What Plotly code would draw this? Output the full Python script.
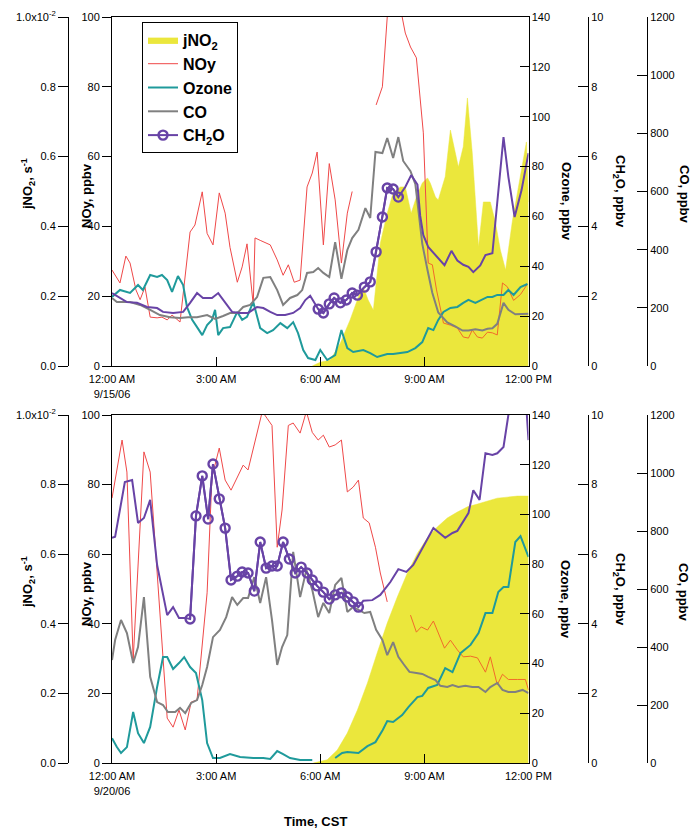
import plotly.graph_objects as go

# ---------------- data (hours after midnight, CST) ----------------
# Panel A: 9/15/06
a_jno2_h = [5.77, 6.0, 6.29, 6.58, 6.86, 7.10, 7.24, 7.38, 7.53, 7.73, 7.93, 8.10, 8.31, 8.45, 8.62, 8.77, 8.94,
            9.09, 9.17, 9.32, 9.40, 9.60, 9.75, 9.86, 9.98, 10.12, 10.24, 10.38, 10.56, 10.70, 10.90, 11.05,
            11.19, 11.34, 11.54, 11.68, 11.83, 11.94, 12.0]
a_jno2 = [0, 0.00011, 0.00017, 0.00066, 0.00132, 0.00198, 0.00226, 0.00189, 0.00160, 0.00352, 0.00438, 0.00496,
          0.00513, 0.00513, 0.00438, 0.00484, 0.00524, 0.00539, 0.00524, 0.00484, 0.00476, 0.00542, 0.00676,
          0.00628, 0.00570, 0.00628, 0.00768, 0.00610, 0.00341, 0.00470, 0.00470, 0.00410, 0.00332, 0.00275,
          0.00418, 0.00496, 0.00582, 0.00642, 0.00470]

a_noy_h = [0, 0.23, 0.40, 0.52, 0.69, 0.81, 0.95, 1.10, 1.30, 1.44, 1.59, 1.73, 1.96, 2.25, 2.39, 2.60, 2.74,
           2.91, 3.09, 3.26, 3.40, 3.61, 3.75, 3.89, 4.07, 4.12, 4.27, 4.56, 4.76, 4.93, 5.08, 5.25, 5.42, 5.62,
           5.77, 5.91, 6.09, 6.26, 6.43, 6.61, 6.78, 6.92, 7.2, 7.61, 7.79, 7.93, 8.10, 8.25, 8.36, 8.45, 8.60,
           8.77, 8.97, 9.11]
a_noy = [27.5, 23.8, 31.5, 29.5, 21.8, 19, 22.6, 14, 13.8, 14, 13.2, 14.6, 12.6, 38.4, 40.4, 49.9, 38, 34.7,
         49.6, 43.8, 34, 24, 28.4, 35, 17.5, 36.7, 36, 34.7, 30.4, 26, 29, 24, 24.6, 51.3, 55.3, 61.3, 34.7, 58,
         47.6, 29.5, 43.8, 50, None, 74.8, 80, 100, 115, 112, 100, 95.4, 91.4, 88.3, 66.8, 29.5]
a_noy2_h = [9.11, 9.23, 9.35, 9.55, 9.75, 9.95, 10.12, 10.27, 10.38, 10.53, 10.67, 10.82, 10.96, 11.10, 11.25,
            11.39, 11.57, 11.77, 11.97]
a_noy2 = [29.5, 29, 21.8, 12.3, 11.7, 10.9, 8.3, 8, 10.3, 8.3, 8, 9.7, 9.5, 8.9, 23.8, 22.7, 18.8, 20.5, 23.5]

a_o3_h = [0, 0.23, 0.52, 0.75, 0.89, 1.10, 1.30, 1.44, 1.59, 1.73, 1.90, 2.05, 2.16, 2.31, 2.45, 2.60, 2.74, 2.88,
          2.97, 3.06, 3.20, 3.40, 3.61, 3.75, 3.89, 4.07, 4.27, 4.47, 4.64, 4.85, 5.05, 5.22, 5.36, 5.51, 5.65,
          5.86, 6.00, 6.20, 6.43, 6.61, 6.78, 6.95, 7.24, 7.44, 7.64, 7.93, 8.10, 8.31, 8.51, 8.74, 8.94, 9.11,
          9.26, 9.40, 9.55, 9.75, 9.95, 10.12, 10.27, 10.47, 10.67, 10.82, 10.96, 11.10, 11.28, 11.42, 11.57,
          11.77, 11.97]
a_o3 = [27.7, 30.5, 29.3, 32.5, 30.5, 36.5, 35.7, 36.5, 34.5, 29.7, 36.1, 32.5, 23.7, 18.5, 15.6, 12.4, 16.4, 18.5,
        22.5, 12.4, 15.2, 15.6, 21.7, 18.5, 19.7, 25.7, 15.2, 13.2, 14.4, 17.2, 15.2, 17.6, 13.2, 6.4, 3.2, 2.4,
        6.4, 2.4, 4.4, 14.4, 7.2, 5.6, 6.4, 5.2, 3.6, 4.8, 4.8, 5.2, 5.6, 7.2, 9.6, 15.2, 14.4, 18.5, 21.7, 23.3,
        23.7, 25.3, 26.5, 25.3, 26.5, 27.7, 27.7, 28.5, 28.5, 30.5, 28.5, 31.7, 32.9]

a_co_h = [0, 0.14, 0.52, 0.81, 1.10, 1.38, 1.67, 1.96, 2.19, 2.45, 2.74, 2.97, 3.20, 3.40, 3.61, 3.78, 3.98, 4.18,
          4.36, 4.56, 4.76, 4.93, 5.13, 5.34, 5.48, 5.62, 5.80, 5.94, 6.09, 6.26, 6.43, 6.61, 6.78, 6.92, 7.10,
          7.30, 7.44, 7.59, 7.79, 7.93, 8.10, 8.25, 8.39, 8.60, 8.74, 8.83, 8.94, 9.09, 9.23, 9.40, 9.66, 9.89,
          10.10, 10.27, 10.47, 10.67, 10.82, 10.96, 11.10, 11.28, 11.42, 11.62, 11.83, 12.0]
a_co = [234, 220, 220, 210, 193, 175, 168, 165, 168, 168, 175, 162, 172, 182, 182, 203, 210, 237, 303, 306, 261,
        210, 234, 244, 261, 320, 323, 337, 320, 306, 426, 300, 399, 440, 468, 543, 509, 736, 732, 784, 715, 787,
        705, 670, 625, 540, 420, 330, 251, 184, 150, 136, 122, 122, 126, 122, 128, 130, 145, 217, 193, 178, 178,
        180]

a_ch2o_h = [0, 0.43, 0.72, 1.01, 1.30, 1.47, 1.76, 2.05, 2.25, 2.45, 2.62, 2.88, 3.06, 3.26, 3.46, 3.69, 3.92,
            4.18, 4.36, 4.56, 4.76, 4.99, 5.22, 5.42, 5.57, 5.71]
a_ch2o = [2.09, 1.83, 1.81, 1.69, 1.66, 1.55, 1.52, 1.55, 1.81, 2.09, 1.95, 1.95, 2.09, 1.81, 1.55, 1.52, 1.52,
          1.69, 1.66, 1.55, 1.46, 1.46, 1.52, 1.66, 1.89, 2.01]
a_circ_h = [5.94, 6.09, 6.26, 6.40, 6.58, 6.75, 6.92, 7.07, 7.27, 7.44, 7.61, 7.79, 7.93, 8.10, 8.25]
a_circ = [1.63, 1.52, 1.78, 1.95, 1.81, 1.89, 2.09, 2.03, 2.26, 2.41, 3.27, 4.27, 5.10, 5.07, 4.84]
a_ch2o_post_h = [8.45, 8.62, 8.80, 8.88, 8.97, 9.11, 9.26, 9.40, 9.58, 9.78, 9.95, 10.12, 10.27, 10.41, 10.61,
                 10.76, 10.96, 11.28, 11.42, 11.60, 11.80, 12.0]
a_ch2o_post = [5.13, 5.47, 5.20, 4.30, 3.75, 3.41, 3.24, 3.10, 2.89, 3.30, 3.02, 2.90, 2.84, 2.69, 2.88, 3.18,
               3.23, 6.56, 5.42, 4.27, 5.04, 6.10]

# Panel B: 9/20/06
b_jno2_h = [5.80, 6.20, 6.49, 6.78, 7.07, 7.36, 7.64, 7.93, 8.22, 8.51, 8.80, 9.09, 9.37, 9.66, 9.95, 10.24,
            10.53, 10.82, 11.10, 11.39, 11.68, 12.0]
b_jno2 = [0, 0.00009, 0.00037, 0.00086, 0.00152, 0.00230, 0.00316, 0.00402, 0.00477, 0.00546, 0.00603, 0.00647,
          0.00678, 0.00704, 0.00721, 0.00736, 0.00744, 0.00753, 0.00761, 0.00764, 0.00767, 0.00767]

b_noy_h = [0, 0.29, 0.43, 0.61, 0.92, 1.10, 1.59, 1.76, 1.93, 2.11, 2.28, 2.45, 2.74, 2.88, 3.09, 3.26, 3.43,
           3.78, 3.92, 4.12, 4.33, 4.47, 4.61, 4.76, 4.90, 5.08, 5.22, 5.42, 5.60, 5.77, 5.94, 6.09, 6.26, 6.43,
           6.61, 6.78, 6.95, 7.10, 7.24, 7.41, 7.59, 7.73, 7.93]
b_noy = [76.1, 92.8, 83.6, 29.6, 89.4, 83.6, 12.9, 10.3, 15.2, 9.5, 17.5, 18.1, 48.9, 82.2, 90.5, 81.3, 78.4,
         85.6, 84.2, 92, 101, 99, 97, 62, 72.7, 97, 97.7, 94.8, 101, 95, 92.8, 94.2, 90.8, 91.4, 92.8, 77.9, 79.3,
         81.3, 70.4, 69, 62, 54.6, 46.3]
b_noy2_h = [8.60, 8.77, 8.91, 9.09, 9.26, 9.58, 9.75, 9.95, 10.12, 10.33, 10.53, 10.76, 10.90, 11.10, 11.25,
            11.42, 11.68, 11.91, 12.0]
b_noy2 = [42.5, 37.6, 39.1, 38.2, 40.8, 33, 35.3, 32.5, 30.5, 30.7, 30.2, 26.1, 30.5, 22.5, 25.5, 24, 24, 24, 21]

b_o3_h = [0, 0.14, 0.26, 0.43, 0.61, 0.75, 0.92, 1.10, 1.30, 1.47, 1.59, 1.76, 1.93, 2.08, 2.25, 2.42, 2.60, 2.74,
          2.91, 3.11, 3.40, 3.69, 4.07, 4.36, 4.56, 4.76, 4.93, 5.13, 5.42, 5.77, 6.1,
          6.43, 6.63, 6.78, 7.10, 7.36, 7.59, 7.80, 7.93, 8.10, 8.36, 8.54, 8.80, 8.94, 9.11, 9.37, 9.60, 9.81,
          10.04, 10.33, 10.56, 10.76, 10.96, 11.13, 11.28, 11.42, 11.62, 11.77, 12.0]
b_o3 = [10, 6.4, 4, 6.4, 20.5, 12, 8, 14.5, 30.6, 42.6, 42.6, 37.8, 40.2, 42.6, 38.6, 36.2, 25.3, 8, 2, 2, 3.6,
        2.4, 2, 2, 1.6, 4.8, 3.6, 2, 1.2, 1.2, None,
        2, 4, 4.4, 4, 6.8, 8.4, 13.3, 16.9, 16.5, 19.3, 22.5, 26.5, 27, 30.2, 31.4, 38.2, 36.6, 44.2, 47.5, 52.3,
        60.3, 60.3, 68.8, 70.8, 70.8, 88.9, 91.3, 82.9]

b_co_h = [0, 0.09, 0.26, 0.43, 0.61, 0.75, 0.92, 1.10, 1.30, 1.47, 1.61, 1.82, 1.96, 2.11, 2.28, 2.45, 2.60, 2.74,
          2.91, 3.11, 3.29, 3.46, 3.61, 3.78, 3.92, 4.10, 4.27, 4.44, 4.61, 4.76, 4.90, 5.05, 5.22, 5.42, 5.60,
          5.77, 5.94, 6.09, 6.26, 6.43, 6.61, 6.78, 6.95, 7.10, 7.27, 7.44, 7.61, 7.79, 7.93, 8.10, 8.25, 8.42,
          8.57, 8.77, 8.94, 9.11, 9.32, 9.46, 9.66, 9.81, 9.98, 10.18, 10.38, 10.56, 10.76, 10.90, 11.10, 11.25,
          11.42, 11.62, 11.83, 12.0]
b_co = [355, 424, 493, 448, 345, 400, 572, 297, 210, 200, 176, 176, 190, 172, 207, 217, 269, 331, 434, 459, 503,
        572, 545, 569, 569, 641, 552, 641, 493, 338, 400, 441, 728, 572, 666, 597, 503, 552, 517, 614, 638, 521,
        538, 528, 517, 521, 459, 424, 372, 417, 366, 338, 314, 310, 307, 297, 286, 266, 262, 269, 262, 266, 262,
        262, 245, 262, 276, 252, 245, 245, 252, 241]

b_ch2o_h = [0, 0.09, 0.37, 0.58, 0.75, 0.92, 1.10, 1.30, 1.59, 1.76, 1.93, 2.11]
b_ch2o = [6.47, 6.5, 8.07, 8.13, 6.9, 7.04, 7.56, 5.69, 4.25, 4.48, 4.17, 4.17]
b_circ_h = [2.25, 2.42, 2.60, 2.77, 2.91, 3.09, 3.26, 3.43, 3.61, 3.75, 3.92, 4.10, 4.27, 4.44, 4.61, 4.76, 4.93,
            5.11, 5.28, 5.45, 5.62, 5.77, 5.91, 6.09, 6.26, 6.43, 6.61, 6.78, 6.95, 7.10]
b_circ = [4.14, 7.10, 8.25, 7.01, 8.59, 7.59, 6.75, 5.26, 5.37, 5.49, 5.46, 4.94, 6.35, 5.6, 5.66, 5.66, 6.35,
          5.86, 5.46, 5.63, 5.46, 5.26, 5.09, 4.91, 4.71, 4.83, 4.89, 4.77, 4.63, 4.48]
b_ch2o_post_h = [7.24, 7.50, 7.73, 8.02, 8.25, 8.48, 8.68, 9.03, 9.26, 9.60, 9.81, 9.95, 10.27, 10.41, 10.59,
                 10.76, 10.96, 11.10, 11.28, 11.42, 11.60, 11.90, 12.0]
b_ch2o_post = [4.66, 4.68, 4.83, 5.20, 5.57, 5.49, 5.69, 6.35, 6.75, 6.47, 6.61, 6.67, 7.18, 7.84, 7.56, 8.9,
               8.85, 8.9, 9.08, 10.0, 10.9, 10.8, 9.28]

tick_hours = [0, 3, 6, 9, 12]
tick_text_a = ["12:00 AM<br>9/15/06", "3:00 AM", "6:00 AM", "9:00 AM", "12:00 PM"]
tick_text_b = ["12:00 AM<br>9/20/06", "3:00 AM", "6:00 AM", "9:00 AM", "12:00 PM"]
jno2_ticks = [0, 0.002, 0.004, 0.006, 0.008, 0.010]
jno2_text = ["0.0", "0.2", "0.4", "0.6", "0.8", "1.0x10<sup>-2</sup>"]

# ---------------- styling ----------------
W, H = 692, 832
FONT = "Liberation Sans, Arial, Helvetica, sans-serif"
C_J = "#EBE73C"
C_NOY = "#EF4848"
C_NOY2 = "#F26A2A"
C_O3 = "#1F9A9B"
C_CO = "#808080"
C_CH = "#6843A6"

def fx(p):  # window pixel -> paper fraction
    return p / W

def fy(p):
    return 1 - p / H

XDOM = [fx(112), fx(528.5)]
DOM_A = [fy(366), fy(17)]
DOM_B = [fy(763), fy(415)]

fig = go.Figure()

def add_panel(sfx, yids, jh, jv, nh, nv, n2h, n2v, oh, ov, ch, cv, hh, hv, ph, pv, qh, qv, legend):
    xa = "x" if sfx == 0 else "x2"
    yj, yn, yo, yc, yh = yids
    fig.add_trace(go.Scatter(x=jh, y=jv, xaxis=xa, yaxis=yj, mode="lines", fill="tozeroy",
                             fillcolor=C_J, line=dict(color=C_J, width=0.5), name="jNO<sub>2</sub>",
                             showlegend=legend))
    fig.add_trace(go.Scatter(x=nh, y=nv, xaxis=xa, yaxis=yn, mode="lines", connectgaps=False,
                             line=dict(color=C_NOY, width=1), name="NOy", showlegend=legend))
    fig.add_trace(go.Scatter(x=n2h, y=n2v, xaxis=xa, yaxis=yn, mode="lines",
                             line=dict(color=C_NOY2, width=1), name="NOy", showlegend=False))
    fig.add_trace(go.Scatter(x=oh, y=ov, xaxis=xa, yaxis=yo, mode="lines", connectgaps=False,
                             line=dict(color=C_O3, width=2), name="Ozone", showlegend=legend))
    fig.add_trace(go.Scatter(x=ch, y=cv, xaxis=xa, yaxis=yc, mode="lines",
                             line=dict(color=C_CO, width=2), name="CO", showlegend=legend))
    fig.add_trace(go.Scatter(x=hh + ph + qh, y=hv + pv + qv, xaxis=xa, yaxis=yh, mode="lines",
                             line=dict(color=C_CH, width=2), name="CH2O", showlegend=False))
    fig.add_trace(go.Scatter(x=ph, y=pv, xaxis=xa, yaxis=yh, mode="lines+markers",
                             line=dict(color=C_CH, width=2),
                             marker=dict(symbol="circle-open", size=9, color=C_CH,
                                         line=dict(width=2.4, color=C_CH)),
                             name="CH<sub>2</sub>O", showlegend=legend))

add_panel(0, ["y", "y2", "y3", "y4", "y5"], a_jno2_h, a_jno2, a_noy_h, a_noy, a_noy2_h, a_noy2,
          a_o3_h, a_o3, a_co_h, a_co, a_ch2o_h, a_ch2o, a_circ_h, a_circ, a_ch2o_post_h, a_ch2o_post, True)
add_panel(1, ["y6", "y7", "y8", "y9", "y10"], b_jno2_h, b_jno2, b_noy_h, b_noy, b_noy2_h, b_noy2,
          b_o3_h, b_o3, b_co_h, b_co, b_ch2o_h, b_ch2o, b_circ_h, b_circ, b_ch2o_post_h, b_ch2o_post, False)

tickfont = dict(family=FONT, size=11, color="black")
common = dict(showgrid=False, zeroline=False, showline=True, linecolor="black", linewidth=1,
              tickcolor="black", tickwidth=1, tickfont=tickfont, automargin=False)

def xaxis(anchor, text):
    return dict(domain=XDOM, range=[0, 12], anchor=anchor, tickvals=tick_hours, ticktext=text,
                ticks="inside", ticklen=9, mirror=True, ticklabelstandoff=3, **common)

def yaxes(dom, base, xa):
    return {
        "j": dict(domain=dom, range=[0, 0.01], anchor="free", position=fx(68), side="left",
                  tickvals=jno2_ticks, ticktext=jno2_text, ticks="outside", ticklen=10, **common),
        "n": dict(domain=dom, range=[0, 100], overlaying=base, anchor=xa, side="left",
                  tickvals=[0, 20, 40, 60, 80, 100], ticks="outside", ticklen=9, **common),
        "o": dict(domain=dom, range=[0, 140], overlaying=base, anchor=xa, side="right",
                  tickvals=[0, 20, 40, 60, 80, 100, 120, 140], ticks="inside", ticklen=9, **common),
        "c": dict(domain=dom, range=[0, 1200], overlaying=base, anchor="free", position=fx(647), side="right",
                  tickvals=[0, 200, 400, 600, 800, 1000, 1200], ticks="inside", ticklen=10, **common),
        "h": dict(domain=dom, range=[0, 10], overlaying=base, anchor="free", position=fx(588), side="right",
                  tickvals=[0, 2, 4, 6, 8, 10], ticks="inside", ticklen=10, **common),
    }

ya = yaxes(DOM_A, "y", "x")
yb = yaxes(DOM_B, "y6", "x2")

title_font = dict(family=FONT, size=13, color="black", weight="bold")
annots = []
def title(text, px, py, angle):
    annots.append(dict(text=text, x=fx(px), y=fy(py), xref="paper", yref="paper", showarrow=False,
                       textangle=angle, font=title_font, xanchor="center", yanchor="middle"))

for off in (0, 398):
    title("jNO<sub>2</sub>, s<sup>-1</sup>", 28, 184 + off, -90)
    title("NOy, ppbv", 86, 196 + off, -90)
    title("Ozone, ppbv", 566, 201 + off, 90)
    title("CH<sub>2</sub>O, ppbv", 620, 191 + off, 90)
    title("CO, ppbv", 684, 194 + off, 90)
title("Time, CST", 315, 821, 0)

fig.update_layout(
    width=W, height=H, margin=dict(l=0, r=0, t=0, b=0, autoexpand=False),
    paper_bgcolor="white", plot_bgcolor="white",
    font=dict(family=FONT, size=11, color="black"),
    xaxis=xaxis("y", tick_text_a), xaxis2=xaxis("y6", tick_text_b),
    yaxis=ya["j"], yaxis2=ya["n"], yaxis3=ya["o"], yaxis4=ya["c"], yaxis5=ya["h"],
    yaxis6=yb["j"], yaxis7=yb["n"], yaxis8=yb["o"], yaxis9=yb["c"], yaxis10=yb["h"],
    legend=dict(x=fx(142), y=fy(22), xanchor="left", yanchor="top", bgcolor="white",
                bordercolor="black", borderwidth=1, itemwidth=30,
                font=dict(family=FONT, size=16, color="black", weight="bold")),
    annotations=annots, showlegend=True,
)

# remove the browser's default 8px body margin so the 692x832 figure fills the window exactly
fig.write_html("out.html", config={"displayModeBar": False},
               post_script="document.body.style.margin='0';document.body.style.overflow='hidden';")
